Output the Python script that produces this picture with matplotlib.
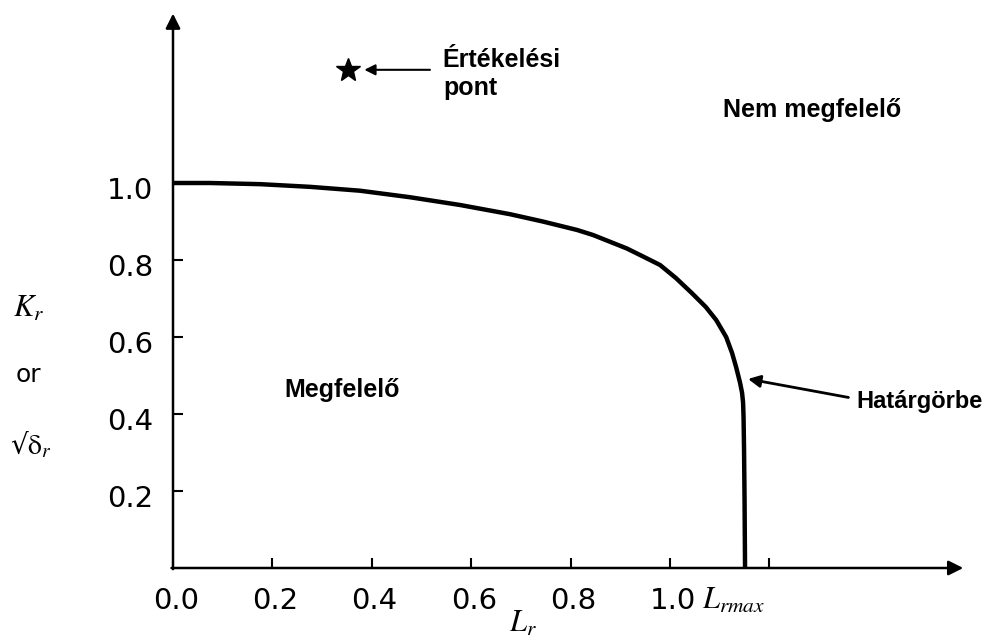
import matplotlib
matplotlib.use("Agg")
import matplotlib.pyplot as plt

# Failure assessment line (Lr, Kr)
lr_curve = [0.0, 0.074, 0.175, 0.276, 0.376, 0.477, 0.577, 0.678, 0.744,
            0.813, 0.845, 0.913, 0.946, 0.980, 1.012, 1.044, 1.072, 1.093,
            1.113, 1.125, 1.133, 1.141, 1.145, 1.147, 1.148, 1.149, 1.150,
            1.151]
kr_curve = [1.0, 1.0, 0.997, 0.990, 0.980, 0.963, 0.943, 0.919, 0.900,
            0.878, 0.865, 0.830, 0.809, 0.787, 0.753, 0.714, 0.678, 0.644,
            0.600, 0.558, 0.522, 0.481, 0.455, 0.430, 0.392, 0.306, 0.177,
            0.0]

# Assessment point
point_lr = 0.352
point_kr = 1.294

x_ticks = [0.0, 0.2, 0.4, 0.6, 0.8, 1.0, 1.2]
x_tick_labels = ["0.0", "0.2", "0.4", "0.6", "0.8", "1.0", ""]
y_ticks = [0.2, 0.4, 0.6, 0.8, 1.0]
y_tick_labels = ["0.2", "0.4", "0.6", "0.8", "1.0"]
lr_max = 1.151

plt.rcParams["mathtext.fontset"] = "stix"

fig = plt.figure(figsize=(9.91, 6.44), dpi=100)
ax = fig.add_axes([173 / 991, 76 / 644, 1.6 * 497 / 991, 1.45 * 385 / 644])
ax.set_xlim(0, 1.6)
ax.set_ylim(0, 1.45)
for s in ax.spines.values():
    s.set_visible(False)

# axes drawn as arrows
arrow_kw = dict(arrowstyle="-|>", lw=1.8, color="black", mutation_scale=22,
                shrinkA=0, shrinkB=0)
ax.annotate("", xy=(1.59, 0), xytext=(-0.003, 0), arrowprops=arrow_kw,
            annotation_clip=False)
ax.annotate("", xy=(0, 1.44), xytext=(0, -0.003), arrowprops=arrow_kw,
            annotation_clip=False)

# tick marks pointing inward, labels drawn separately
ax.set_xticks(x_ticks[1:])
ax.set_yticks(y_ticks[:-1])
ax.tick_params(axis="both", direction="in", length=7, width=1.5,
               labelbottom=False, labelleft=False)

tick_font = dict(family="DejaVu Sans", fontsize=21, color="black")
for xv, lab in zip(x_ticks, x_tick_labels):
    if lab:
        ax.annotate(lab, xy=(xv, 0), xytext=(2, -24), textcoords="offset points",
                    ha="center", va="center", annotation_clip=False, **tick_font)
for yv, lab in zip(y_ticks, y_tick_labels):
    ax.annotate(lab, xy=(0, yv), xytext=(-14, -6), textcoords="offset points",
                ha="right", va="center", annotation_clip=False, **tick_font)

# Lrmax label and axis titles
ax.annotate(r"$L_{rmax}$", xy=(lr_max, 0), xytext=(-31, -23),
            textcoords="offset points", ha="left", va="center", fontsize=22,
            annotation_clip=False)
ax.text(0.704, -0.143, r"$L_r$", ha="center", va="center", fontsize=22,
        clip_on=False)
ax.text(-0.29, 0.675, r"$K_r$", ha="center", va="center", fontsize=22,
        clip_on=False)
ax.text(-0.29, 0.50, "or", ha="center", va="center", fontsize=18,
        family="DejaVu Sans", clip_on=False)
ax.text(-0.286, 0.32, "√" + r"$\mathrm{\delta}_r$", ha="center", va="center",
        fontsize=20, family="DejaVu Sans", clip_on=False)

# boundary curve
ax.plot(lr_curve, kr_curve, color="black", lw=3.2, solid_joinstyle="round",
        solid_capstyle="butt", clip_on=False)

# assessment point
ax.plot([point_lr], [point_kr], marker="*", ms=18, color="black",
        linestyle="none", clip_on=False)

label_font = dict(family="Liberation Sans", fontweight="bold", fontsize=18,
                  color="black")
ax.annotate("", xy=(0.385, point_kr), xytext=(0.517, point_kr),
            arrowprops=dict(arrowstyle="-|>", lw=1.5, color="black",
                            mutation_scale=16, shrinkA=0, shrinkB=0))
ax.text(0.543, 1.301, "Értékelési", ha="left", va="baseline", **label_font)
ax.text(0.543, 1.229, "pont", ha="left", va="baseline", **label_font)

ax.text(1.107, 1.171, "Nem megfelelő", ha="left", va="baseline", **label_font)
ax.text(0.225, 0.444, "Megfelelő", ha="left", va="baseline", **label_font)

ax.annotate("", xy=(1.157, 0.491), xytext=(1.359, 0.443),
            arrowprops=dict(arrowstyle="-|>", lw=2.0, color="black",
                            mutation_scale=18, shrinkA=0, shrinkB=0))
ax.text(1.376, 0.416, "Határgörbe", ha="left", va="baseline",
        **dict(label_font, fontsize=17))

fig.savefig("out.png", dpi=100)
